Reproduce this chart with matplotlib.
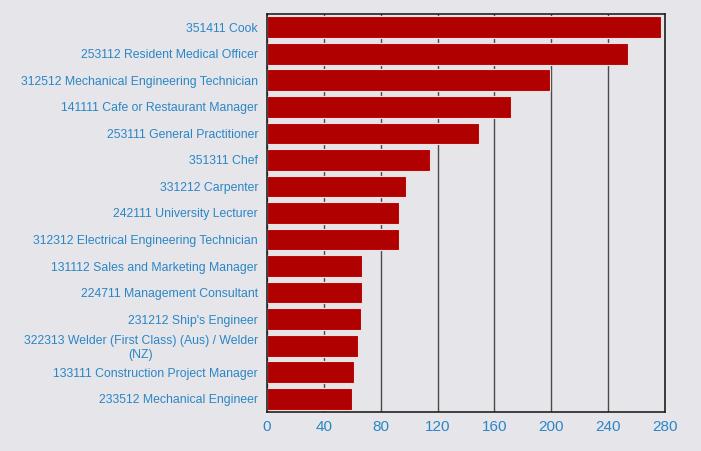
import matplotlib.pyplot as plt

plt.rcParams['font.family'] = ['Liberation Sans', 'DejaVu Sans']

# occupations, top to bottom
occupations = [
    '351411 Cook',
    '253112 Resident Medical Officer',
    '312512 Mechanical Engineering Technician',
    '141111 Cafe or Restaurant Manager',
    '253111 General Practitioner',
    '351311 Chef',
    '331212 Carpenter',
    '242111 University Lecturer',
    '312312 Electrical Engineering Technician',
    '131112 Sales and Marketing Manager',
    '224711 Management Consultant',
    "231212 Ship's Engineer",
    '322313 Welder (First Class) (Aus) / Welder\n(NZ)',
    '133111 Construction Project Manager',
    '233512 Mechanical Engineer',
]
counts = [277, 254, 199, 172, 149, 115, 98, 93, 93, 67, 67, 66, 64, 61, 60]
xticks = [0, 40, 80, 120, 160, 200, 240, 280]

bg = '#e5e5ea'
blue = '#2b86c5'

fig = plt.figure(figsize=(7.01, 4.51), dpi=100, facecolor=bg)
ax = fig.add_axes([0.381, 0.0865, 0.5676, 0.8825])
ax.set_facecolor(bg)

ypos = list(range(len(occupations)))
ax.barh(ypos, counts, height=0.82, color='#b00000', edgecolor='#f4dede',
        linewidth=0.8, zorder=2)

ax.set_xlim(0, 280)
ax.set_ylim(len(occupations) - 0.5, -0.5)
ax.set_xticks(xticks)
ax.set_xticklabels([str(t) for t in xticks], color=blue, fontsize=11)
ax.set_yticks(ypos)
ax.set_yticklabels(occupations, color=blue, fontsize=8.8)
for lbl in ax.get_yticklabels():
    lbl.set_multialignment('center')

ax.tick_params(axis='y', length=0, pad=6.5)
ax.tick_params(axis='x', length=0, pad=6)
ax.xaxis.grid(True, color='#4a4a4a', linewidth=1, zorder=1)
ax.set_axisbelow(True)
for s in ax.spines.values():
    s.set_color('#222222')
    s.set_linewidth(1.2)

fig.savefig('out.png', dpi=100, facecolor=bg)
